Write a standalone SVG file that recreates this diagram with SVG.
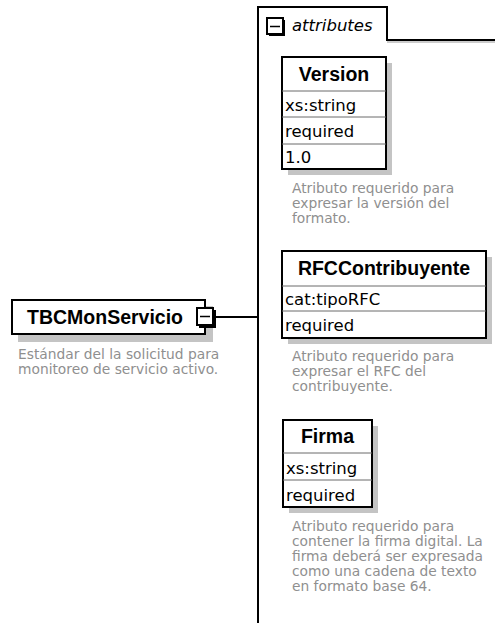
<svg xmlns="http://www.w3.org/2000/svg" width="495" height="623" viewBox="0 0 495 623">
<defs>
<style>
.box{fill:#fff;stroke:#000;stroke-width:2}
.shadow{fill:#c4c4c4}
.div{stroke:#6a6a6a;stroke-width:1}
.hdr{font-family:"Liberation Sans",Arial,sans-serif;font-weight:bold;font-size:19.5px;fill:#000;text-anchor:middle}
.row{font-family:"DejaVu Sans",Verdana,sans-serif;font-size:16.5px;fill:#000}
.desc{font-family:"DejaVu Sans",Verdana,sans-serif;font-size:13.8px;fill:#8f8f8f}
.line{stroke:#000;stroke-width:2;fill:none}
</style>
</defs>
<rect width="495" height="623" fill="#fff"/>
<g id="connectors">
<line class="line" x1="216" y1="317" x2="258" y2="317"/>
</g>
<g id="attributes">
<line x1="387" y1="42" x2="495" y2="42" stroke="#bbb" stroke-width="1.5"/>
<path d="M258 623 V7 H387 V40 H495" fill="none" stroke="#000" stroke-width="2"/>
<rect x="269" y="20" width="16" height="16" fill="#000"/>
<rect x="267" y="18" width="16" height="16" fill="#fff" stroke="#000" stroke-width="2"/>
<line x1="270" y1="26.5" x2="280" y2="26.5" stroke="#000" stroke-width="1.5"/>
<text x="292" y="31" font-family="DejaVu Sans,Verdana,sans-serif" font-style="italic" font-size="16.5" fill="#000">attributes</text>
</g>
<g id="TBCMonServicio">
<rect class="shadow" x="18" y="306" width="195" height="36"/>
<rect class="box" x="12" y="300" width="193" height="34"/>
<text class="hdr" x="105" y="323.5">TBCMonServicio</text>
<rect x="199" y="310" width="17" height="18" fill="#000"/>
<rect x="197" y="308" width="16" height="17" fill="#fff" stroke="#000" stroke-width="2"/>
<line x1="200" y1="316.5" x2="210" y2="316.5" stroke="#000" stroke-width="1.5"/>
<text class="desc"><tspan x="18" y="359">Estándar del la solicitud para</tspan><tspan x="18" y="374">monitoreo de servicio activo.</tspan></text>
</g>
<g id="Version">
<rect class="shadow" x="288" y="63" width="104" height="112"/>
<rect class="box" x="282" y="57" width="104" height="112"/>
<line class="div" x1="282" y1="91" x2="386" y2="91"/>
<line class="div" x1="282" y1="117" x2="386" y2="117"/>
<line class="div" x1="282" y1="144" x2="386" y2="144"/>
<text class="hdr" x="334" y="80.5">Version</text>
<text class="row" x="285" y="111">xs:string</text>
<text class="row" x="285" y="137">required</text>
<text class="row" x="285" y="163">1.0</text>
<text class="desc"><tspan x="292" y="193">Atributo requerido para</tspan><tspan x="292" y="208">expresar la versión del</tspan><tspan x="292" y="223">formato.</tspan></text>
</g>
<g id="RFCContribuyente">
<rect class="shadow" x="288" y="257" width="204" height="87"/>
<rect class="box" x="282" y="251" width="204" height="87"/>
<line class="div" x1="282" y1="286" x2="486" y2="286"/>
<line class="div" x1="282" y1="311" x2="486" y2="311"/>
<text class="hdr" x="384" y="274.5">RFCContribuyente</text>
<text class="row" x="285" y="305">cat:tipoRFC</text>
<text class="row" x="285" y="331">required</text>
<text class="desc"><tspan x="292" y="361">Atributo requerido para</tspan><tspan x="292" y="376">expresar el RFC del</tspan><tspan x="292" y="391">contribuyente.</tspan></text>
</g>
<g id="Firma">
<rect class="shadow" x="289" y="426" width="89" height="87"/>
<rect class="box" x="283" y="420" width="89" height="87"/>
<line class="div" x1="283" y1="453" x2="372" y2="453"/>
<line class="div" x1="283" y1="480" x2="372" y2="480"/>
<text class="hdr" x="327.5" y="443">Firma</text>
<text class="row" x="286" y="474">xs:string</text>
<text class="row" x="286" y="501">required</text>
<text class="desc"><tspan x="292" y="531">Atributo requerido para</tspan><tspan x="292" y="546">contener la firma digital. La</tspan><tspan x="292" y="561">firma deberá ser expresada</tspan><tspan x="292" y="576">como una cadena de texto</tspan><tspan x="292" y="591">en formato base 64.</tspan></text>
</g>
</svg>
